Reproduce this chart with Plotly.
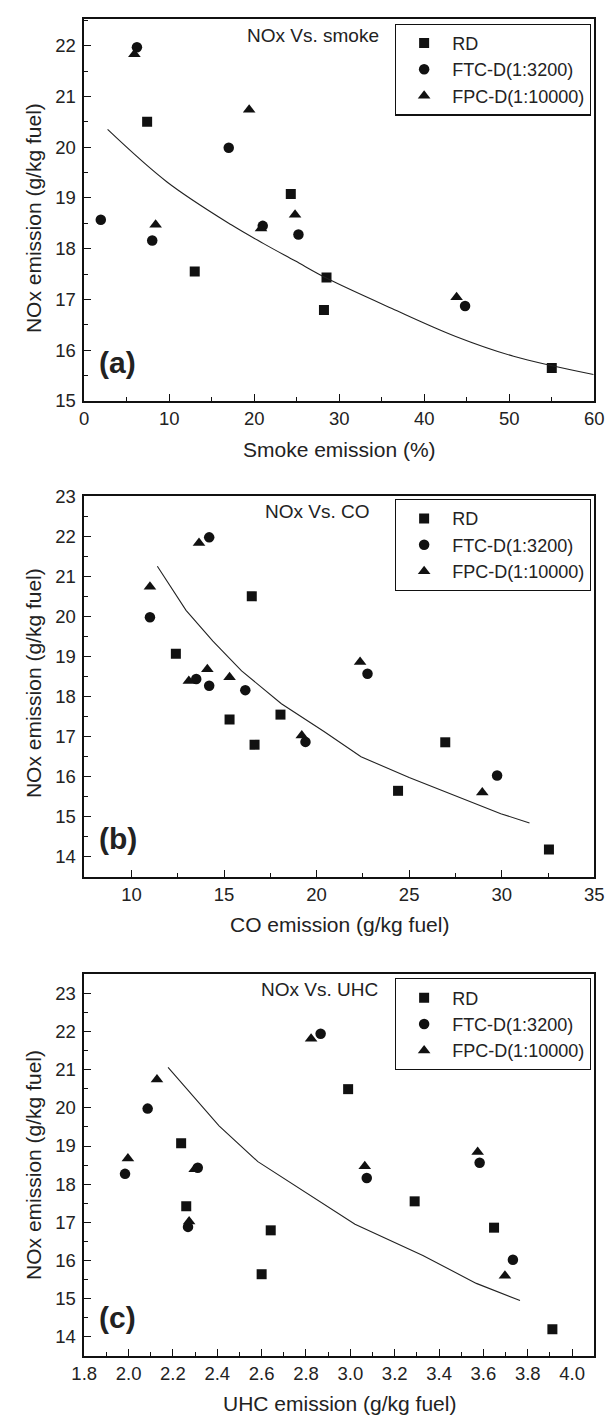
import plotly.graph_objects as go

W, H = 612, 1425
FONT = "Liberation Sans, Arial, Helvetica, sans-serif"
INK = "#111111"
TXT = "#222222"

# ---------------- Panel (a): NOx vs smoke ----------------
a_rd_x = [7.4, 13.0, 24.3, 28.5, 28.2, 55.0]
a_rd_y = [20.50, 17.55, 19.08, 17.43, 16.79, 15.65]
a_ftc_x = [6.2, 1.95, 8.0, 17.0, 21.0, 25.2, 44.8]
a_ftc_y = [21.97, 18.57, 18.16, 19.99, 18.45, 18.28, 16.87]
a_fpc_x = [5.9, 8.4, 19.4, 20.8, 24.8, 43.8]
a_fpc_y = [21.83, 18.47, 20.74, 18.40, 18.67, 17.04]
a_fit_x = [2.75, 9.7, 17.3, 21.1, 24.8, 28.6, 36.2, 43.7, 50.5, 59.9]
a_fit_y = [20.35, 19.32, 18.47, 18.10, 17.76, 17.41, 16.82, 16.27, 15.88, 15.52]

# ---------------- Panel (b): NOx vs CO ----------------
b_rd_x = [12.4, 16.5, 15.3, 16.65, 18.05, 24.4, 26.95, 32.55]
b_rd_y = [19.07, 20.50, 17.43, 16.80, 17.55, 15.65, 16.86, 14.19]
b_ftc_x = [11.0, 14.2, 13.5, 14.2, 16.15, 19.4, 22.75, 29.75]
b_ftc_y = [19.98, 21.97, 18.44, 18.27, 18.16, 16.87, 18.57, 16.03]
b_fpc_x = [11.0, 13.65, 13.1, 14.1, 15.3, 19.2, 22.35, 28.95]
b_fpc_y = [20.74, 21.83, 18.39, 18.68, 18.48, 17.03, 18.86, 15.61]
b_fit_x = [11.4, 12.95, 14.4, 15.95, 18.1, 20.4, 22.4, 25.0, 29.95, 31.5]
b_fit_y = [21.25, 20.15, 19.38, 18.64, 17.82, 17.13, 16.50, 15.98, 15.08, 14.85]

# ---------------- Panel (c): NOx vs UHC ----------------
c_rd_x = [2.237, 2.26, 2.641, 2.60, 2.99, 3.29, 3.648, 3.911]
c_rd_y = [19.07, 17.42, 16.79, 15.64, 20.49, 17.55, 16.86, 14.20]
c_ftc_x = [1.984, 2.086, 2.268, 2.312, 2.866, 3.074, 3.583, 3.733]
c_ftc_y = [18.27, 19.98, 16.88, 18.43, 21.94, 18.16, 18.56, 16.02]
c_fpc_x = [1.997, 2.128, 2.273, 2.298, 2.823, 3.065, 3.574, 3.697]
c_fpc_y = [18.67, 20.74, 17.02, 18.39, 21.81, 18.47, 18.84, 15.60]
c_fit_x = [2.178, 2.408, 2.583, 2.802, 3.021, 3.327, 3.568, 3.765]
c_fit_y = [21.06, 19.53, 18.59, 17.77, 16.95, 16.13, 15.40, 14.95]

series_names = ["RD", "FTC-D(1:3200)", "FPC-D(1:10000)"]
symbols = ["square", "circle", "triangle-up"]
msizes = [10, 10.5, 11]

panels = [
    dict(suffix="", leg="legend", top=8.5, bot=395.7,
         xr=[0, 60], yr=[15, 22.52], xd=10, xm=5, yd=1, ym=0.5, xfmt="",
         data=[(a_rd_x, a_rd_y), (a_ftc_x, a_ftc_y), (a_fpc_x, a_fpc_y)],
         fit=(a_fit_x, a_fit_y, "spline"),
         label="(a)", title="NOx Vs. smoke", tx=312, ty=24.5,
         xtitle="Smoke emission (%)", xty=445, ytc=210, lab_y=357,
         leg_top=12.7),
    dict(suffix="2", leg="legend2", top=492.3, bot=879.0,
         xr=[7.45, 35], yr=[13.5, 23], xd=5, xm=2.5, yd=1, ym=0.5, xfmt="",
         data=[(b_rd_x, b_rd_y), (b_ftc_x, b_ftc_y), (b_fpc_x, b_fpc_y)],
         fit=(b_fit_x, b_fit_y, "linear"),
         label="(b)", title="NOx Vs. CO", tx=316, ty=508,
         xtitle="CO emission (g/kg fuel)", xty=927, ytc=682, lab_y=840,
         leg_top=495.3),
    dict(suffix="3", leg="legend3", top=977.7, bot=1365.0,
         xr=[1.8, 4.1], yr=[13.5, 23.5], xd=0.2, xm=0.1, yd=1, ym=0.5, xfmt=".1f",
         data=[(c_rd_x, c_rd_y), (c_ftc_x, c_ftc_y), (c_fpc_x, c_fpc_y)],
         fit=(c_fit_x, c_fit_y, "linear"),
         label="(c)", title="NOx Vs. UHC", tx=318, ty=993,
         xtitle="UHC emission (g/kg fuel)", xty=1413, ytc=1171, lab_y=1326,
         leg_top=981.7),
]

X0, X1 = 74.0, 604.0
fig = go.Figure()
annotations = []
layout = dict(
    width=W, height=H,
    margin=dict(l=0, r=0, t=0, b=0),
    paper_bgcolor="white", plot_bgcolor="white",
    font=dict(family=FONT, size=18, color=INK),
    showlegend=True,
)

for p in panels:
    xa = "x" + p["suffix"]
    ya = "y" + p["suffix"]
    for (xs, ys), nm, sym, ms in zip(p["data"], series_names, symbols, msizes):
        fig.add_trace(go.Scatter(
            x=xs, y=ys, mode="markers", xaxis=xa, yaxis=ya, name=nm,
            legend=p["leg"],
            marker=dict(symbol=sym, size=ms, color=INK, line=dict(width=0)),
        ))
    fx, fy, shape = p["fit"]
    fig.add_trace(go.Scatter(
        x=fx, y=fy, mode="lines", xaxis=xa, yaxis=ya, showlegend=False,
        line=dict(color="#222222", width=1.1, shape=shape, smoothing=1.0),
    ))

    axcommon = dict(showline=True, linecolor=INK, linewidth=1.6, mirror=True,
                    showgrid=False, zeroline=False, ticks="inside", ticklen=7,
                    tickwidth=1.2, tickcolor=INK, ticklabeloverflow="allow",
                    tickfont=dict(family=FONT, size=18.5, color=TXT))
    xax = dict(axcommon, domain=[X0 / W, X1 / W], range=p["xr"], anchor=ya,
               tick0=0, dtick=p["xd"],
               minor=dict(ticks="inside", ticklen=4, tickwidth=1, tickcolor=INK,
                          dtick=p["xm"], tick0=0, showgrid=False))
    if p["xfmt"]:
        xax["tickformat"] = p["xfmt"]
    yax = dict(axcommon, domain=[1 - p["bot"] / H, 1 - p["top"] / H],
               range=p["yr"], anchor=xa, tick0=0, dtick=p["yd"],
               ticklabelstandoff=3,
               minor=dict(ticks="inside", ticklen=4, tickwidth=1, tickcolor=INK,
                          dtick=p["ym"], tick0=0, showgrid=False))
    layout["xaxis" + p["suffix"]] = xax
    layout["yaxis" + p["suffix"]] = yax

    layout[p["leg"]] = dict(
        x=600.5 / W, xanchor="right", y=1 - p["leg_top"] / H, yanchor="top",
        xref="paper", yref="paper",
        bordercolor=INK, borderwidth=1.2, bgcolor="white",
        font=dict(family=FONT, size=18, color=TXT),
        itemwidth=46, tracegroupgap=0,
    )

    annotations.append(dict(text=p["title"], x=p["tx"] / W, y=1 - p["ty"] / H,
                            xref="paper", yref="paper", showarrow=False,
                            xanchor="center", yanchor="middle",
                            font=dict(family=FONT, size=19, color=TXT)))
    annotations.append(dict(text="<b>" + p["label"] + "</b>", x=109 / W,
                            y=1 - p["lab_y"] / H, xref="paper", yref="paper",
                            showarrow=False, xanchor="center", yanchor="middle",
                            font=dict(family=FONT, size=30, color=TXT)))
    annotations.append(dict(text=p["xtitle"], x=(X0 + X1) / 2 / W,
                            y=1 - p["xty"] / H, xref="paper", yref="paper",
                            showarrow=False, xanchor="center", yanchor="middle",
                            font=dict(family=FONT, size=21, color=TXT)))
    annotations.append(dict(text="NOx emission (g/kg fuel)", x=22 / W,
                            y=1 - p["ytc"] / H, xref="paper", yref="paper",
                            showarrow=False, xanchor="center", yanchor="middle",
                            textangle=-90,
                            font=dict(family=FONT, size=21, color=TXT)))

layout["annotations"] = annotations
fig.update_layout(**layout)
fig.write_html("out.html")
